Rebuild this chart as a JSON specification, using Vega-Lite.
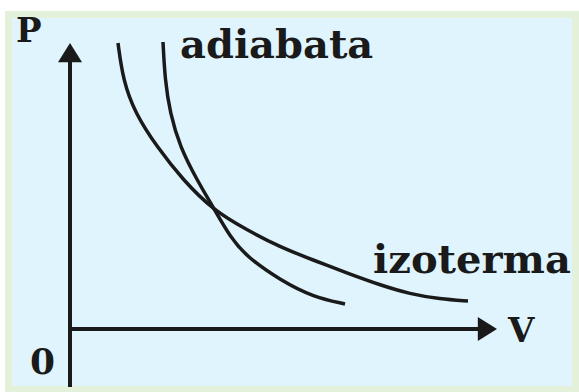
{
  "$schema": "https://vega.github.io/schema/vega-lite/v6.json",
  "width": 579,
  "height": 392,
  "autosize": {"type": "fit", "contains": "padding"},
  "padding": 0,
  "background": "#ffffff",
  "config": {"view": {"stroke": null}},
  "datasets": {
    "panels": [
      {"name": "border", "x1": -1.625, "x2": 12.725, "y1": 7.95, "y2": -1.575},
      {"name": "inner", "x1": -1.45, "x2": 12.55, "y1": 7.775, "y2": -1.425}
    ],
    "curves": [
      {"curve": "izoterma", "V": 1.2, "P": 7.15},
      {"curve": "izoterma", "V": 1.325, "P": 6.225},
      {"curve": "izoterma", "V": 1.625, "P": 5.4},
      {"curve": "izoterma", "V": 2.175, "P": 4.55},
      {"curve": "izoterma", "V": 2.825, "P": 3.725},
      {"curve": "izoterma", "V": 3.575, "P": 2.975},
      {"curve": "izoterma", "V": 4.425, "P": 2.475},
      {"curve": "izoterma", "V": 5.25, "P": 2.05},
      {"curve": "izoterma", "V": 6.075, "P": 1.725},
      {"curve": "izoterma", "V": 6.925, "P": 1.4},
      {"curve": "izoterma", "V": 7.75, "P": 1.1},
      {"curve": "izoterma", "V": 8.5, "P": 0.875},
      {"curve": "izoterma", "V": 9.25, "P": 0.75},
      {"curve": "izoterma", "V": 9.95, "P": 0.7},
      {"curve": "adiabata", "V": 2.325, "P": 7.175},
      {"curve": "adiabata", "V": 2.375, "P": 6.225},
      {"curve": "adiabata", "V": 2.5, "P": 5.4},
      {"curve": "adiabata", "V": 2.75, "P": 4.55},
      {"curve": "adiabata", "V": 3.175, "P": 3.725},
      {"curve": "adiabata", "V": 3.575, "P": 3.05},
      {"curve": "adiabata", "V": 4.0, "P": 2.3},
      {"curve": "adiabata", "V": 4.425, "P": 1.8},
      {"curve": "adiabata", "V": 5.25, "P": 1.225},
      {"curve": "adiabata", "V": 6.075, "P": 0.8},
      {"curve": "adiabata", "V": 6.875, "P": 0.625}
    ],
    "axes": [
      {"axis": "P", "x1": 0, "x2": 0, "y1": -1.45, "y2": 6.9},
      {"axis": "V", "x1": 0, "x2": 10.45, "y1": 0, "y2": 0}
    ],
    "arrows": [
      {"axis": "P", "x": 0, "y": 6.91, "angle": 0},
      {"axis": "V", "x": 10.435, "y": 0, "angle": 90}
    ],
    "labels": [
      {"text": "P", "x": -1.35, "y": 7.175, "size": 34},
      {"text": "adiabata", "x": 2.75, "y": 6.775, "size": 40},
      {"text": "izoterma", "x": 7.575, "y": 1.4, "size": 40},
      {"text": "V", "x": 10.95, "y": -0.325, "size": 34},
      {"text": "0", "x": -1.0, "y": -1.125, "size": 36}
    ]
  },
  "layer": [
    {
      "data": {"name": "panels"},
      "mark": {"type": "rect"},
      "encoding": {
        "x": {"field": "x1", "type": "quantitative", "scale": {"domain": [-1.75, 12.725], "nice": false, "zero": false}, "axis": null},
        "x2": {"field": "x2"},
        "y": {"field": "y1", "type": "quantitative", "scale": {"domain": [-1.575, 8.225], "nice": false, "zero": false}, "axis": null},
        "y2": {"field": "y2"},
        "color": {"field": "name", "type": "nominal", "scale": {"domain": ["border", "inner"], "range": ["#e3f0da", "#dff4fd"]}, "legend": null}
      }
    },
    {
      "data": {"name": "axes"},
      "mark": {"type": "rule", "color": "#1a1a1a", "strokeWidth": 4},
      "encoding": {
        "x": {"field": "x1", "type": "quantitative"},
        "x2": {"field": "x2"},
        "y": {"field": "y1", "type": "quantitative"},
        "y2": {"field": "y2"}
      }
    },
    {
      "data": {"name": "arrows"},
      "mark": {"type": "point", "shape": "M0,-0.8L1,0.8L-1,0.8Z", "filled": true, "color": "#1a1a1a", "opacity": 1, "size": 576, "strokeWidth": 0},
      "encoding": {
        "x": {"field": "x", "type": "quantitative"},
        "y": {"field": "y", "type": "quantitative"},
        "angle": {"field": "angle", "type": "quantitative", "scale": null}
      }
    },
    {
      "data": {"name": "curves"},
      "mark": {"type": "line", "interpolate": "basis", "color": "#1a1a1a", "strokeWidth": 3.5},
      "encoding": {
        "x": {"field": "V", "type": "quantitative"},
        "y": {"field": "P", "type": "quantitative"},
        "detail": {"field": "curve", "type": "nominal"},
        "order": {"field": "V", "type": "quantitative"}
      }
    },
    {
      "data": {"name": "labels"},
      "mark": {"type": "text", "align": "left", "baseline": "alphabetic", "font": "DejaVu Serif", "fontWeight": "bold", "color": "#1a1a1a"},
      "encoding": {
        "x": {"field": "x", "type": "quantitative"},
        "y": {"field": "y", "type": "quantitative"},
        "text": {"field": "text", "type": "nominal"},
        "size": {"field": "size", "type": "quantitative", "scale": null}
      }
    }
  ],
  "resolve": {"scale": {"color": "independent"}}
}
